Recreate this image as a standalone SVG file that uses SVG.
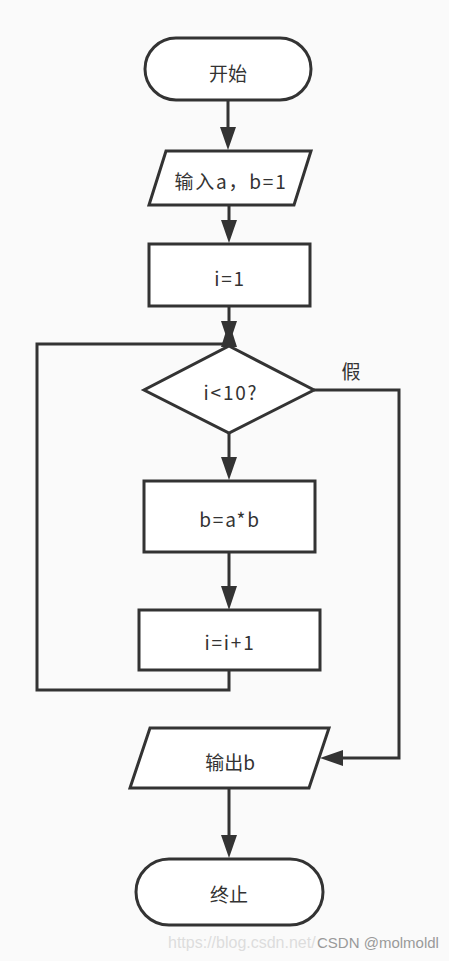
<svg xmlns="http://www.w3.org/2000/svg" width="449" height="961" viewBox="0 0 449 961">
<style>
.shape{fill:#ffffff;stroke:#333333;stroke-width:3}
.line{fill:none;stroke:#333333;stroke-width:3}
.head{fill:#333333;stroke:none}
.t{font-family:"Noto Sans CJK SC","Noto Sans",sans-serif;font-size:19px;fill:#333333;text-anchor:middle;dominant-baseline:central}
.ls{letter-spacing:1.8px}
.wm{font-family:"Liberation Sans",Arial,sans-serif}
</style>
<rect x="0" y="0" width="449" height="961" fill="#fafafa"/>
<g id="connectors">
<path class="line" d="M228,101 V130"/>
<polygon class="head" points="220,127 236,127 228,150"/>
<path class="line" d="M229,205 V222"/>
<polygon class="head" points="221,220 237,220 229,243"/>
<path class="line" d="M229,307 V325"/>
<polygon class="head" points="221,321 237,321 229,345"/>
<path class="line" d="M229,670 V690 H37 V344 H229"/>
<polygon class="head" points="221,347 237,347 229,322"/>
<path class="line" d="M229,433 V460"/>
<polygon class="head" points="221,457 237,457 229,480"/>
<path class="line" d="M229,552 V590"/>
<polygon class="head" points="221,586 237,586 229,610"/>
<path class="line" d="M314,390 H399 V758 H340"/>
<polygon class="head" points="343,750 343,766 320,758"/>
<path class="line" d="M229,788 V840"/>
<polygon class="head" points="221,835 237,835 229,858"/>
<text class="t" x="351" y="370">假</text>
</g>
<g id="start">
<rect class="shape" x="145" y="38" width="166" height="62" rx="31"/>
<text class="t" x="228" y="72">开始</text>
</g>
<g id="input">
<polygon class="shape" points="166,151 311,151 294,205 149,205"/>
<text class="t ls" x="231" y="180">输入a，b=1</text>
</g>
<g id="init">
<rect class="shape" x="149" y="244" width="161" height="62"/>
<text class="t ls" x="230" y="277">i=1</text>
</g>
<g id="cond">
<polygon class="shape" points="229,346 314,390 229,433 144,390"/>
<text class="t ls" x="231" y="391">i&lt;10?</text>
</g>
<g id="mult">
<rect class="shape" x="144" y="481" width="171" height="71"/>
<text class="t ls" x="230" y="518">b=a*b</text>
</g>
<g id="incr">
<rect class="shape" x="139" y="610" width="181" height="60"/>
<text class="t ls" x="230" y="641">i=i+1</text>
</g>
<g id="output">
<polygon class="shape" points="150,728 329,728 309,788 130,788"/>
<text class="t" x="230" y="761">输出b</text>
</g>
<g id="end">
<rect class="shape" x="136" y="859" width="187" height="66" rx="33"/>
<text class="t" x="229" y="893">终止</text>
</g>
<text class="wm" x="168" y="948" font-size="16" fill="#dddddd">https://blog.csdn.net/</text>
<text class="wm" x="317" y="948" font-size="15" fill="#999999">CSDN @molmoldl</text>
</svg>
